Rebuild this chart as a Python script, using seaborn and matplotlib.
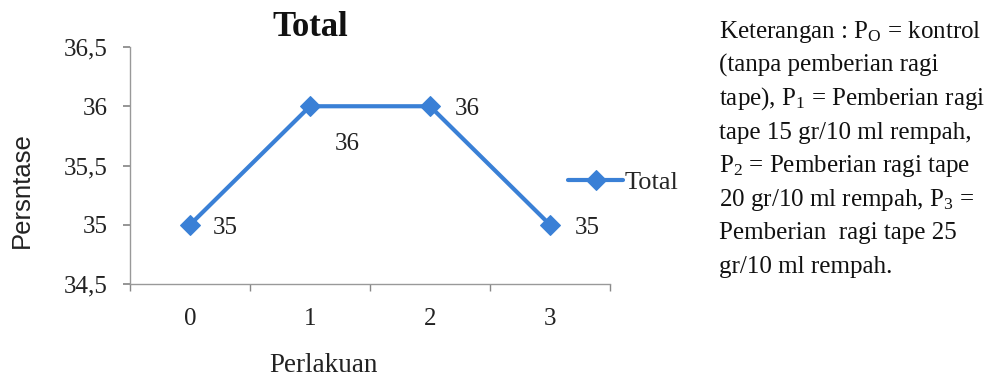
import matplotlib
matplotlib.use("Agg")
import matplotlib.pyplot as plt
import seaborn as sns
import pandas as pd
import numpy as np

categories = [0, 1, 2, 3]
values = [35, 36, 36, 35]
ytick_values = [34.5, 35, 35.5, 36, 36.5]
ytick_labels = ["34,5", "35", "35,5", "36", "36,5"]
series_name = "Total"

sns.set_theme(style="white")
plt.rcParams['font.family'] = ['Liberation Serif', 'DejaVu Serif']
plt.rcParams['mathtext.fontset'] = 'custom'
plt.rcParams['mathtext.rm'] = 'Liberation Serif'
plt.rcParams['mathtext.it'] = 'Liberation Serif'

df = pd.DataFrame({"Perlakuan": categories, "Persntase": values, "Seri": series_name})

W, H = 994, 379
fig = plt.figure(figsize=(W / 100, H / 100), dpi=100)
ax = fig.add_axes([130 / W, 1 - 284 / H, 480 / W, 237 / H])
color = "#3a80d6"
sns.lineplot(data=df, x="Perlakuan", y="Persntase", ax=ax, color=color, marker="D",
             markersize=10, linewidth=3, markeredgecolor=color, label=series_name)

ax.set_xlim(-0.5, 3.5)
ax.set_ylim(34.5, 36.5)
ax.set_yticks(ytick_values)
ax.set_yticklabels(ytick_labels)
ax.set_xticks(categories)
ax.set_xticklabels([str(c) for c in categories])
ax.set_xticks(np.arange(-0.5, 3.6, 1.0), minor=True)
ax.tick_params(axis='x', which='major', length=0, labelsize=18, pad=17, colors='#222222')
ax.tick_params(axis='x', which='minor', length=5, color="#888888", direction='out', bottom=True)
ax.tick_params(axis='y', length=5, color="#888888", direction='out', left=True, labelsize=18,
               pad=11, labelcolor='#222222')
for s in ['top', 'right']:
    ax.spines[s].set_visible(False)
for s in ['left', 'bottom']:
    ax.spines[s].set_color("#999999")
    ax.spines[s].set_linewidth(1)

ax.set_xlabel("")
ax.set_ylabel("")
fig.text(323 / W, 1 - 366 / H, "Perlakuan", fontsize=19.5, ha='center', va='center', color='#222222')
fig.text(22 / W, 1 - 190 / H, "Persntase", fontsize=18.5, ha='center', va='center', rotation=90,
         family=['Liberation Sans', 'DejaVu Sans'], color='#222222')
fig.text(310 / W, 1 - 27 / H, "Total", fontsize=25, fontweight='bold', ha='center', va='center',
         color='#111111')

offsets = [(16.5, -2), (18, -27), (18, -2), (18, -2)]
for x, y, off in zip(categories, values, offsets):
    ax.annotate(f"{y}", (x, y), xytext=off, textcoords="offset points", fontsize=18,
                ha='left', va='center', color='#222222')

leg = ax.legend(loc='center left', bbox_to_anchor=(568 / W, 1 - 182 / H),
                bbox_transform=fig.transFigure, frameon=False, borderpad=0, borderaxespad=0,
                fontsize=19, handlelength=2.1, handletextpad=0.05)

lines = [
    r"Keterangan : P$_\mathregular{O}$ = kontrol",
    "(tanpa pemberian ragi",
    r"tape), P$_\mathregular{1}$ = Pemberian ragi",
    "tape 15 gr/10 ml rempah,",
    r"P$_\mathregular{2}$ = Pemberian ragi tape",
    r"20 gr/10 ml rempah, P$_\mathregular{3}$ =",
    "Pemberian  ragi tape 25",
    "gr/10 ml rempah.",
]
y0 = 32
for i, t in enumerate(lines):
    fig.text(719 / W, 1 - (y0 + i * 33.5) / H, t, fontsize=18, va='center', ha='left',
             color='#111111')

fig.savefig("out.png", dpi=100)
